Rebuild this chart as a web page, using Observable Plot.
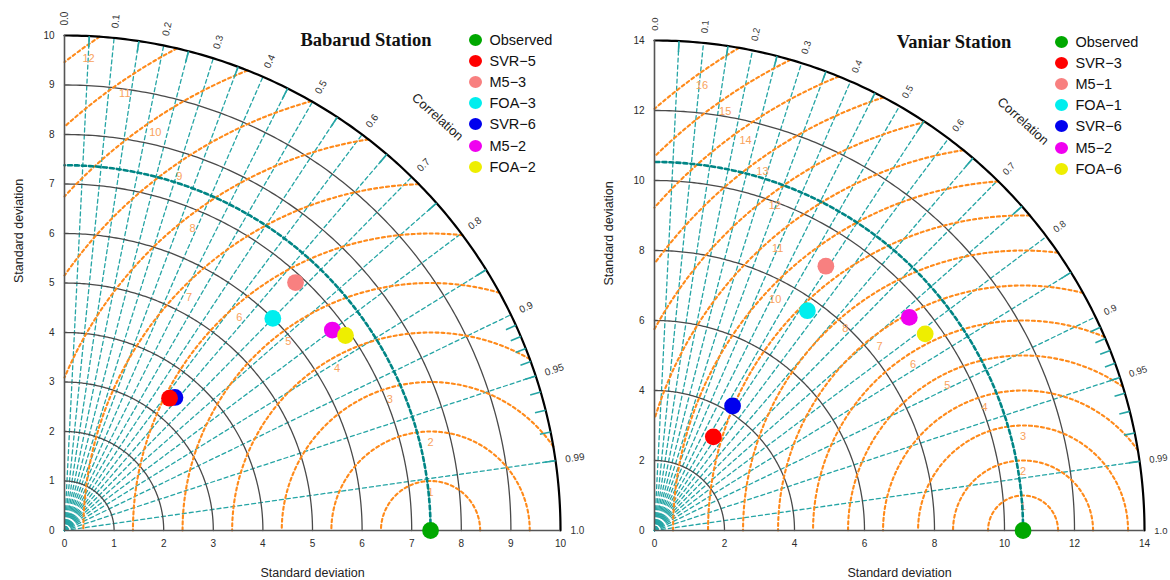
<!DOCTYPE html>
<html><head><meta charset="utf-8">
<script src="https://cdn.jsdelivr.net/npm/d3@7"></script>
<script src="https://cdn.jsdelivr.net/npm/@observablehq/plot@0.6"></script>
<style>
body{margin:0;background:#fff;}
#wrap{position:relative;width:1170px;height:580px;display:flex;font-family:"Liberation Sans",Arial,sans-serif;overflow:hidden;}
.title{position:absolute;font-family:"Liberation Serif","Times New Roman",serif;font-weight:bold;font-size:18.5px;color:#111;transform:translate(-50%,-50%);white-space:nowrap;}
.leg{position:absolute;font-size:14.5px;color:#111;}
.leg .it{display:flex;align-items:center;height:21.1px;white-space:nowrap;}
.leg .c{display:inline-block;width:13px;height:12px;border-radius:50%;margin-right:8px;}
</style></head><body><div id="wrap"></div>
<script>
// ---------- data ----------
const corrTickLabels = ["0.0","0.1","0.2","0.3","0.4","0.5","0.6","0.7","0.8","0.9","0.95","0.99","1.0"];
const corrLineValues = [0.05,0.1,0.15,0.2,0.25,0.3,0.35,0.4,0.45,0.5,0.55,0.6,0.65,0.7,0.75,0.8,0.85,0.9,0.95,0.99];
const corrTickValues = [0.05,0.15,0.25,0.35,0.45,0.55,0.65,0.75,0.85,0.91,0.92,0.93,0.94,0.95,0.96,0.97,0.98,0.99];

const babarudTitle = "Babarud Station";
const babarudModels = ["Observed","SVR-5","M5-3","FOA-3","SVR-6","M5-2","FOA-2"];
const babarudSD   = [7.38, 3.41, 6.84, 6.00, 3.49, 6.75, 6.90];
const babarudCorr = [1.000, 0.621, 0.681, 0.700, 0.638, 0.800, 0.821];
const babarudSDTicks = [0,1,2,3,4,5,6,7,8,9,10];
const babarudRMSD = [1,2,3,4,5,6,7,8,9,10,11,12];

const vaniarTitle = "Vaniar Station";
const vaniarModels = ["Observed","SVR-3","M5-1","FOA-1","SVR-6","M5-2","FOA-6"];
const vaniarSD   = [10.53, 3.16, 9.00, 7.65, 4.20, 9.49, 9.56];
const vaniarCorr = [1.000, 0.532, 0.544, 0.571, 0.531, 0.767, 0.809];
const vaniarSDTicks = [0,2,4,6,8,10,12,14];
const vaniarRMSD = [1,2,3,4,5,6,7,8,9,10,11,12,13,14,15,16];

const pointColors = ["#00a800","#ff0000","#f88080","#00eeee","#0000ee","#f000f0","#eeee00"];
// drawing order (index into the series) so overlaps look like the original
const drawOrder = [0,4,1,2,3,5,6];

// ---------- styles ----------
const TEAL = "#25a5a5", REFC = "#008585", ORANGE = "#ff8a1a", ORANGE_LAB = "#f9a25c";

function arc(r, a0, a1, cx = 0, g = 0) {
  const pts = [];
  const n = Math.max(8, Math.ceil(Math.abs(a1 - a0) / 0.5));
  for (let i = 0; i <= n; i++) {
    const a = (a0 + (a1 - a0) * i / n) * Math.PI / 180;
    pts.push({x: cx + r * Math.cos(a), y: r * Math.sin(a), g});
  }
  return pts;
}

function panel(cfg) {
  const R = cfg.sdTicks[cfg.sdTicks.length - 1];
  const obs = cfg.sd[0];
  const corrLines = corrLineValues.flatMap((c, i) => {
    const a = Math.acos(c);
    return [{x: 0, y: 0, g: i}, {x: R * Math.cos(a), y: R * Math.sin(a), g: i}];
  });
  const corrTicks = corrTickValues.map(c => {
    const a = Math.acos(c);
    return {x1: 0.978 * R * Math.cos(a), y1: 0.978 * R * Math.sin(a), x2: R * Math.cos(a), y2: R * Math.sin(a)};
  });
  const corrLab = corrTickLabels.map(t => {
    const a = Math.acos(+t);
    return {x: 1.02 * R * Math.cos(a), y: 1.02 * R * Math.sin(a), t, rot: -a * 180 / Math.PI};
  });
  const sdArcs = cfg.sdTicks.filter(s => s > 0 && s < R).flatMap((s, i) => arc(s, 0, 90, 0, i));
  const outer = arc(R, 0, 90);
  const refArc = arc(obs, 0, 90);
  const rmsArcs = [], rmsLabs = [];
  cfg.rmsd.forEach((k, i) => {
    const cs = (R * R - obs * obs - k * k) / (2 * obs * k);
    const a0 = cs >= 1 ? 0 : Math.acos(Math.max(-1, cs)) * 180 / Math.PI;
    const a1 = obs - k >= 0 ? 180 : Math.acos(-obs / k) * 180 / Math.PI;
    if (a1 <= a0) return;
    rmsArcs.push(...arc(k, a0, a1, obs, i));
    const am = (a0 + a1) / 2 * Math.PI / 180, rl = k - 0.023 * R;
    rmsLabs.push({x: obs + rl * Math.cos(am), y: rl * Math.sin(am), t: String(k)});
  });
  const pts = drawOrder.map(i => ({
    x: cfg.sd[i] * cfg.corr[i],
    y: cfg.sd[i] * Math.sin(Math.acos(Math.min(1, cfg.corr[i]))),
    name: cfg.models[i], color: pointColors[i]
  }));
  const ca = 48 * Math.PI / 180;

  return Plot.plot({
    width: cfg.width, height: 580,
    marginLeft: cfg.ml, marginRight: cfg.mr, marginTop: cfg.mt, marginBottom: 50,
    x: {domain: [0, R]}, y: {domain: [0, R]},
    style: {fontFamily: '"Liberation Sans",Arial,sans-serif', fontSize: "10px", color: "#2a2a2a", overflow: "visible", background: "transparent"},
    marks: [
      Plot.line(corrLines, {x: "x", y: "y", z: "g", stroke: TEAL, strokeWidth: 1.3, strokeDasharray: "4,3"}),
      Plot.line(sdArcs, {x: "x", y: "y", z: "g", stroke: "#4a4a4a", strokeWidth: 1.3}),
      Plot.line(rmsArcs, {x: "x", y: "y", z: "g", stroke: ORANGE, strokeWidth: 2.1, strokeDasharray: "3,3"}),
      Plot.text(rmsLabs, {x: "x", y: "y", text: "t", fill: ORANGE_LAB, fontSize: 11}),
      Plot.line(refArc, {x: "x", y: "y", stroke: REFC, strokeWidth: 2.6, strokeDasharray: "4,3"}),
      Plot.line(outer, {x: "x", y: "y", stroke: "#000", strokeWidth: 2.2}),
      Plot.ruleX([0], {y1: 0, y2: R, stroke: "#555", strokeWidth: 1.6}),
      Plot.ruleY([0], {x1: 0, x2: R, stroke: "#555", strokeWidth: 1.6}),
      Plot.link(corrTicks, {x1: "x1", y1: "y1", x2: "x2", y2: "y2", stroke: TEAL, strokeWidth: 1.6}),
      Plot.text(corrLab, {x: "x", y: "y", text: "t", rotate: "rot", textAnchor: "start", fontSize: cfg.corrFont, fill: "#333"}),
      Plot.text(["Correlation"], {x: () => 1.124 * R * Math.cos(ca), y: () => 1.124 * R * Math.sin(ca), text: d => d, rotate: 42, fontSize: 13, fill: "#222"}),
      Plot.axisX(cfg.sdTicks, {tickSize: 0, tickPadding: 9, label: null, fontSize: 10, tickFormat: d => String(d)}),
      Plot.axisY(cfg.sdTicks, {tickSize: 0, tickPadding: 10, label: null, fontSize: 10, tickFormat: d => String(d)}),
      Plot.text(["Standard deviation"], {frameAnchor: "bottom", dy: 46, text: d => d, fontSize: 12.5, fill: "#222"}),
      Plot.text(["Standard deviation"], {frameAnchor: "left", dx: -46, rotate: -90, text: d => d, fontSize: 12.5, fill: "#222"}),
      Plot.dot(pts, {x: "x", y: "y", r: 8.4, fill: "color", stroke: "none"})
    ]
  });
}

const wrap = document.getElementById("wrap");
const cfgs = [
  {title: babarudTitle, models: babarudModels, sd: babarudSD, corr: babarudCorr, sdTicks: babarudSDTicks, rmsd: babarudRMSD,
   width: 585, ml: 64, mr: 25, mt: 35, corrFont: 10, titlePos: [366, 40], legPos: [475, 40]},
  {title: vaniarTitle, models: vaniarModels, sd: vaniarSD, corr: vaniarCorr, sdTicks: vaniarSDTicks, rmsd: vaniarRMSD,
   width: 585, ml: 69, mr: 26, mt: 40, corrFont: 9.5, titlePos: [954, 42], legPos: [1061, 42]}
];
cfgs.forEach(cfg => {
  wrap.appendChild(panel(cfg));
  const t = document.createElement("div");
  t.className = "title"; t.textContent = cfg.title;
  t.style.left = cfg.titlePos[0] + "px"; t.style.top = cfg.titlePos[1] + "px";
  wrap.appendChild(t);
  const leg = document.createElement("div");
  leg.className = "leg";
  leg.style.left = (cfg.legPos[0] - 6.5) + "px"; leg.style.top = (cfg.legPos[1] - 10.5) + "px";
  cfg.models.forEach((m, i) => {
    const it = document.createElement("div"); it.className = "it";
    const c = document.createElement("span"); c.className = "c"; c.style.background = pointColors[i];
    it.appendChild(c); it.appendChild(document.createTextNode(m.replace("-", "\u2212")));
    leg.appendChild(it);
  });
  wrap.appendChild(leg);
});
</script></body></html>
